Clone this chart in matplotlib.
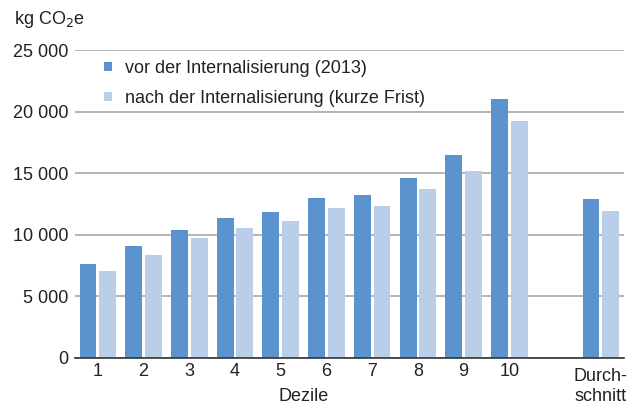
import matplotlib.pyplot as plt
import numpy as np

plt.rcParams['font.family'] = ['Liberation Sans', 'DejaVu Sans']

# Pro-Kopf-Emissionen nach Einkommensdezilen
dezile = ['1', '2', '3', '4', '5', '6', '7', '8', '9', '10', 'Durch-\nschnitt']
vorher = [7600, 9070, 10350, 11350, 11850, 12950, 13180, 14640, 16430, 21000, 12860]
nachher = [7040, 8360, 9700, 10550, 11100, 12130, 12310, 13670, 15150, 19200, 11910]

# Position 10 bleibt frei, Durchschnitt steht abgesetzt
x = np.array(list(range(10)) + [11])

dunkel = '#5b93cf'
hell = '#bacee9'
schrift = '#222222'

fig = plt.figure(figsize=(6.3, 4.04), dpi=100)
ax = fig.add_axes([0.119, 0.115, 0.871, 0.761])

b = 0.37
ax.bar(x - 0.215, vorher, width=b, color=dunkel, zorder=3,
       label='vor der Internalisierung (2013)')
ax.bar(x + 0.215, nachher, width=b, color=hell, zorder=3,
       label='nach der Internalisierung (kurze Frist)')

ax.set_xlim(-0.5, 11.5)
ax.set_ylim(0, 25000)
ax.set_yticks(range(0, 25001, 5000))
ax.set_yticklabels(['0', '5 000', '10 000', '15 000', '20 000', '25 000'])
ax.set_xticks(x)
ax.set_xticklabels(dezile[:10] + [''])

ax.yaxis.grid(True, color='#a8a8a8', linewidth=1.2, zorder=0)
ax.tick_params(axis='both', length=0, labelsize=13, colors=schrift)
ax.tick_params(axis='y', pad=4.5)
ax.tick_params(axis='x', pad=4)
for s in ['top', 'right', 'left']:
    ax.spines[s].set_visible(False)
ax.spines['bottom'].set_color('#333333')
ax.spines['bottom'].set_linewidth(1.2)
ax.spines['bottom'].set_zorder(4)

# zweizeilige Beschriftung des Durchschnitts etwas tiefer gesetzt
ax.text(x[-1], -0.094, dezile[-1], transform=ax.get_xaxis_transform(),
        ha='center', va='center', fontsize=13, color=schrift, linespacing=1.2)
ax.text(4.5, -0.126, 'Dezile', transform=ax.get_xaxis_transform(),
        ha='center', va='center', fontsize=13, color=schrift)
fig.text(14 / 630, 1 - 19 / 404, 'kg CO$_2$e', ha='left', va='center',
         fontsize=13, color=schrift)

leg = ax.legend(loc='upper left', bbox_to_anchor=(0.024, 1.02), frameon=False,
                fontsize=13, handlelength=0.4, handleheight=0.35,
                handletextpad=0.75, labelspacing=0.72)
for t in leg.get_texts():
    t.set_color(schrift)

plt.savefig('out.png')
